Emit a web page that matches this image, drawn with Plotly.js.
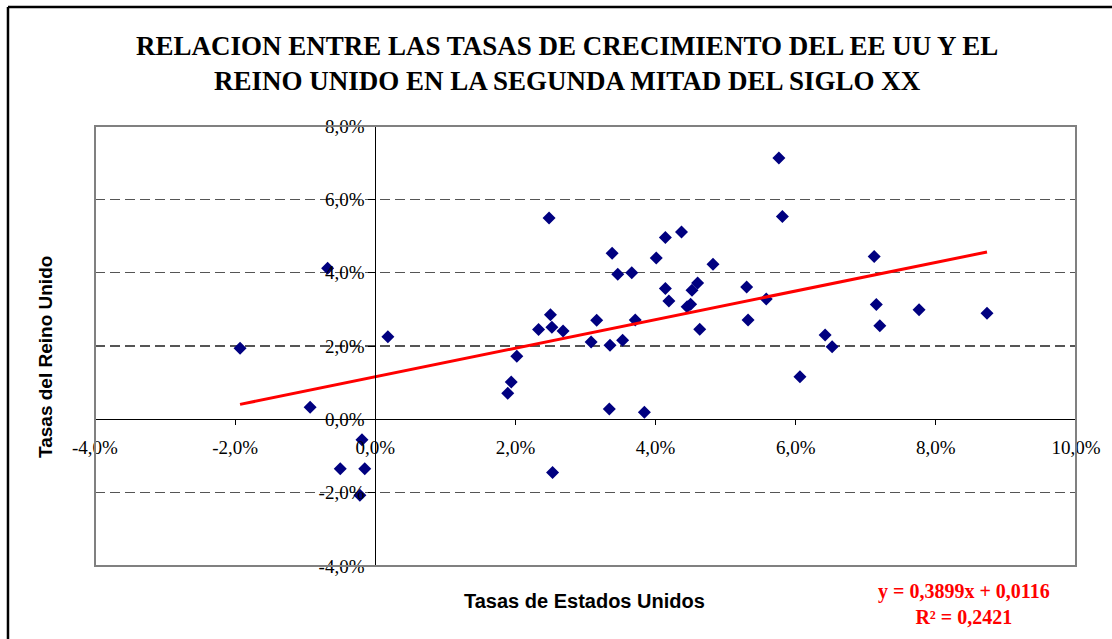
<!DOCTYPE html>
<html>
<head>
<meta charset="utf-8">
<script src="https://cdn.plot.ly/plotly-3.0.1.min.js"></script>
<style>
  html, body { margin: 0; padding: 0; background: #ffffff; }
  #chart { width: 1112px; height: 639px; }
</style>
</head>
<body>
<div id="chart"></div>
<script>
// Growth rates (%)
const usaRates = [-1.93, -0.93, -0.68, 0.18, -0.19, -0.50, -0.15, -0.22, 1.89, 1.94, 2.02, 2.53, 3.08, 3.35, 3.53, 3.34, 3.84, 6.06, 6.42, 6.52, 2.48, 3.38, 3.46, 3.66, 4.01, 4.14, 4.37, 4.82, 4.14, 4.19, 4.60, 4.52, 4.45, 4.50, 4.63, 2.50, 2.52, 2.33, 2.68, 3.16, 3.71, 5.30, 5.32, 5.76, 5.81, 7.12, 5.58, 7.15, 7.76, 8.73, 7.20];
const ukRates  = [1.94, 0.33, 4.12, 2.25, -0.56, -1.35, -1.35, -2.07, 0.71, 1.02, 1.72, -1.45, 2.11, 2.02, 2.16, 0.28, 0.19, 1.16, 2.30, 1.98, 5.49, 4.53, 3.96, 4.00, 4.40, 4.96, 5.11, 4.23, 3.57, 3.23, 3.72, 3.52, 3.07, 3.14, 2.46, 2.85, 2.51, 2.45, 2.41, 2.70, 2.71, 3.61, 2.71, 7.13, 5.53, 4.44, 3.28, 3.13, 2.99, 2.89, 2.55];

// Trendline coefficients (from the chart's equation)
const slope = 0.3899;
const intercept = 0.0116;
const r2 = 0.2421;

const xTicks = [-0.04, -0.02, 0, 0.02, 0.04, 0.06, 0.08, 0.10];
const yTicks = [-0.04, -0.02, 0, 0.02, 0.04, 0.06, 0.08];

const xs = usaRates.map(v => v / 100);
const ys = ukRates.map(v => v / 100);
const xMin = Math.min(...xs), xMax = Math.max(...xs);
const trendX = [xMin, xMax];
const trendY = trendX.map(x => slope * x + intercept);

const fmt = (v, d) => v.toFixed(d).replace('.', ',');
const pct = v => (v * 100).toFixed(1).replace('.', ',') + '%';

const serif = 'Liberation Serif, Times New Roman, serif';
const sans = 'Liberation Sans, Arial, sans-serif';

const data = [
  {
    type: 'scatter', mode: 'markers', x: xs, y: ys,
    marker: { symbol: 'diamond', size: 10, color: '#000080' },
    cliponaxis: false
  },
  {
    type: 'scatter', mode: 'lines', x: trendX, y: trendY,
    line: { color: '#ff0000', width: 3 }
  }
];

const xr = [-0.04, 0.10], yr = [-0.04, 0.08];

const layout = {
  width: 1112, height: 639,
  paper_bgcolor: '#ffffff', plot_bgcolor: '#ffffff',
  showlegend: false,
  margin: { l: 95, r: 36, t: 126, b: 73 },
  title: {
    text: '<b>RELACION ENTRE LAS TASAS DE CRECIMIENTO DEL EE UU Y EL<br>REINO UNIDO EN LA SEGUNDA MITAD DEL SIGLO XX</b>',
    font: { family: serif, size: 27, color: '#000000' },
    xref: 'container', x: 0.51, xanchor: 'center',
    yref: 'container', y: 1 - 55 / 639, yanchor: 'middle'
  },
  xaxis: {
    range: xr, anchor: 'free',
    position: (0 - yr[0]) / (yr[1] - yr[0]),
    tickmode: 'array', tickvals: xTicks, ticktext: xTicks.map(pct),
    ticks: 'outside', ticklen: 5, tickcolor: '#000000',
    ticklabelstandoff: 6,
    showline: true, linecolor: '#000000', linewidth: 1,
    showgrid: false, zeroline: false,
    tickfont: { family: serif, size: 19, color: '#000000' }
  },
  yaxis: {
    range: yr, anchor: 'free',
    position: (0 - xr[0]) / (xr[1] - xr[0]),
    tickmode: 'array', tickvals: yTicks, ticktext: yTicks.map(pct),
    ticks: 'outside', ticklen: 7, tickcolor: '#000000',
    showline: true, linecolor: '#000000', linewidth: 1,
    showgrid: true, gridcolor: '#555555', gridwidth: 1.2, griddash: '10px,5px',
    zeroline: false,
    tickfont: { family: serif, size: 19, color: '#000000' }
  },
  shapes: [
    { type: 'rect', xref: 'paper', yref: 'paper', x0: 0, x1: 1, y0: 0, y1: 1,
      line: { color: '#808080', width: 2 }, fillcolor: 'rgba(0,0,0,0)', layer: 'above' },
    { type: 'line', xref: 'paper', yref: 'paper', x0: -0.0887, x1: 1.05, y0: 1.2705, y1: 1.2705,
      line: { color: '#000000', width: 2.5 }, layer: 'above' },
    { type: 'line', xref: 'paper', yref: 'paper', x0: -0.0887, x1: -0.0887, y0: -0.2, y1: 1.2705,
      line: { color: '#000000', width: 2.5 }, layer: 'above' }
  ],
  annotations: [
    { text: '<b>Tasas del Reino Unido</b>', xref: 'paper', yref: 'paper',
      x: (45 - 95) / 981, y: (566 - 357) / 440, textangle: -90, showarrow: false,
      xanchor: 'center', yanchor: 'middle',
      font: { family: sans, size: 19, color: '#000000' } },
    { text: '<b>Tasas de Estados Unidos</b>', xref: 'paper', yref: 'paper',
      x: (584 - 95) / 981, y: (566 - 601) / 440, showarrow: false,
      xanchor: 'center', yanchor: 'middle',
      font: { family: sans, size: 20, color: '#000000' } },
    { text: '<b>y = ' + fmt(slope, 4) + 'x + ' + fmt(intercept, 4) + '<br>R² = ' + fmt(r2, 4) + '</b>',
      xref: 'paper', yref: 'paper',
      x: (964 - 95) / 981, y: (566 - 604) / 440, showarrow: false,
      xanchor: 'center', yanchor: 'middle', align: 'center',
      font: { family: serif, size: 20, color: '#ff0000' } }
  ]
};

Plotly.newPlot('chart', data, layout, { staticPlot: true, displayModeBar: false });
</script>
</body>
</html>
